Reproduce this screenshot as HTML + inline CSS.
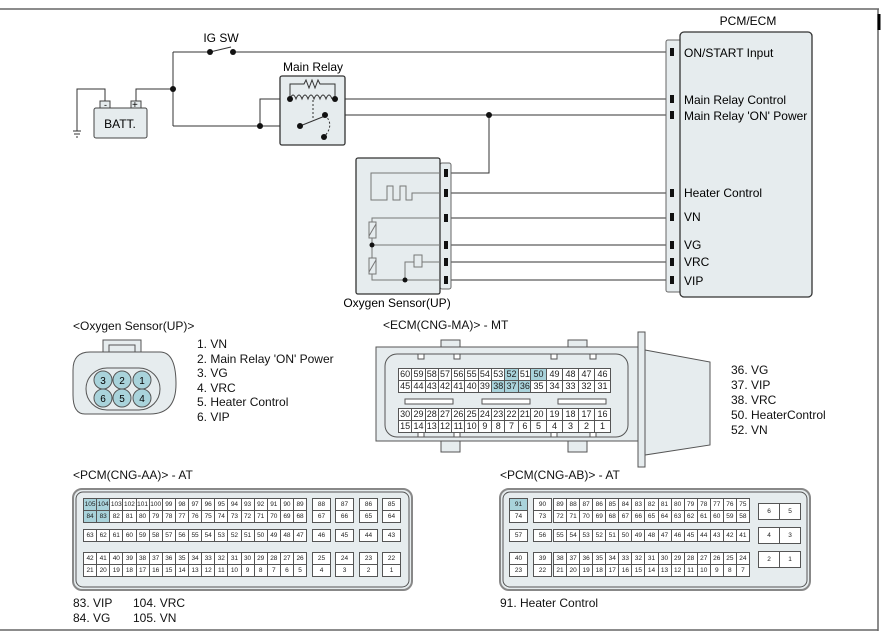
<!DOCTYPE html>
<html><head><meta charset="utf-8"><style>
body{margin:0;width:889px;height:640px;position:relative;background:#fff;font-family:"Liberation Sans",sans-serif;overflow:hidden}
svg{position:absolute;left:0;top:0}
.g{position:absolute;display:flex;height:13px}
.g span{flex:1;border:1px solid #555;margin-left:-1px;text-align:center;background:#fff;box-sizing:border-box;color:#222;white-space:nowrap;overflow:hidden}
.e span{font-size:9px;line-height:11px}
.a span{font-size:6.5px;line-height:11px}
.h{background:#a9d3db!important}
.t{position:absolute;font-size:12px;color:#111;white-space:nowrap}
</style></head><body>
<svg width="889" height="640" viewBox="0 0 889 640" font-family="Liberation Sans, sans-serif">
<g stroke="#666" stroke-width="1.5" fill="none">
<line x1="0" y1="9" x2="879" y2="9"/><line x1="878" y1="9" x2="878" y2="631"/><line x1="0" y1="630" x2="878" y2="630"/>
</g>
<line x1="879" y1="14" x2="879" y2="30" stroke="#000" stroke-width="3"/>
<!-- battery -->
<rect x="94" y="108" width="53" height="30" rx="2" fill="#e6ecee" stroke="#444"/>
<rect x="100" y="101" width="10" height="7" fill="#e6ecee" stroke="#444"/>
<rect x="131" y="101" width="10" height="7" fill="#e6ecee" stroke="#444"/>
<text x="104" y="108" font-size="9">-</text><text x="132" y="108" font-size="10">+</text>
<text x="120" y="128" font-size="12" text-anchor="middle">BATT.</text>
<g fill="none" stroke="#333" stroke-width="1">
<polyline points="105,101 105,89 77,89 77,131"/>
<line x1="73" y1="131" x2="81" y2="131"/><line x1="74" y1="134" x2="80" y2="134"/><line x1="76" y1="137" x2="78" y2="137"/>
<polyline points="136,101 136,89 173,89"/>
<line x1="173" y1="52" x2="173" y2="126"/>
<line x1="173" y1="52" x2="210" y2="52"/>
<line x1="210" y1="52" x2="231" y2="47"/>
<line x1="233" y1="52" x2="667" y2="52"/>
<line x1="173" y1="126" x2="300" y2="126"/>
<polyline points="260,126 260,99 290,99"/>
<line x1="335" y1="99" x2="667" y2="99"/>
<line x1="325" y1="115" x2="667" y2="115"/>
<polyline points="489,115 489,173 447,173"/>
<line x1="447" y1="193" x2="667" y2="193"/>
<line x1="447" y1="218" x2="667" y2="218"/>
<line x1="447" y1="245" x2="667" y2="245"/>
<line x1="447" y1="262" x2="667" y2="262"/>
<line x1="447" y1="280" x2="667" y2="280"/>
</g>
<!-- relay -->
<rect x="280" y="76" width="65" height="69" rx="2" fill="#e6ecee" stroke="#333" stroke-width="1.3"/>
<g fill="none" stroke="#333" stroke-width="1">
<polyline points="290,99 290,84 304,84 306,80 309,88 312,80 315,88 318,80 320,84 335,84 335,99"/>
<path d="M290,99 q3,-8 6,0 q3,-8 6,0 q3,-8 6,0 q3,-8 6,0 q3,-8 6,0 q3,-8 6,0 q3,-8 6,0"/>
<line x1="313" y1="100" x2="313" y2="120" stroke-dasharray="2,2"/>
<line x1="300" y1="126" x2="325" y2="116"/>
<path d="M325,115 q10,10 -1,22" stroke-dasharray="2,2"/>
</g>
<g fill="#111">
<circle cx="210" cy="52" r="3"/><circle cx="233" cy="52" r="3"/><circle cx="173" cy="89" r="3"/>
<circle cx="260" cy="126" r="3"/><circle cx="300" cy="126" r="3"/><circle cx="290" cy="99" r="3"/>
<circle cx="335" cy="99" r="3"/><circle cx="325" cy="115" r="3"/><circle cx="324" cy="137" r="3"/>
<circle cx="489" cy="115" r="3"/>
</g>
<text x="221" y="42" font-size="12" text-anchor="middle">IG SW</text>
<text x="313" y="71" font-size="12" text-anchor="middle">Main Relay</text>
<!-- sensor -->
<rect x="440" y="163" width="11" height="126" rx="2" fill="#e6ecee" stroke="#666"/>
<rect x="356" y="158" width="84" height="136" rx="2" fill="#e6ecee" stroke="#333" stroke-width="1.3"/>
<g fill="none" stroke="#777" stroke-width="1">
<polyline points="440,173 371,173 371,200 387,200 387,186 393,186 393,200 400,200 400,186 406,186 406,200 412,200 412,193 440,193"/>
<polyline points="440,218 372,218 372,280 440,280"/>
<line x1="372" y1="245" x2="440" y2="245"/>
<polyline points="405,280 405,262 414,262"/><line x1="422" y1="262" x2="440" y2="262"/>
</g>
<g fill="#e6ecee" stroke="#777"><rect x="369" y="222" width="7" height="16"/><rect x="369" y="258" width="7" height="16"/><rect x="414" y="255" width="8" height="12"/></g>
<g stroke="#777"><line x1="369" y1="236" x2="376" y2="224"/><line x1="369" y1="272" x2="376" y2="260"/></g>
<g fill="#111"><circle cx="372" cy="245" r="2.5"/><circle cx="405" cy="280" r="2.5"/>
<rect x="444" y="169" width="4" height="8"/><rect x="444" y="189" width="4" height="8"/><rect x="444" y="214" width="4" height="8"/><rect x="444" y="241" width="4" height="8"/><rect x="444" y="258" width="4" height="8"/><rect x="444" y="276" width="4" height="8"/></g>
<text x="397" y="307" font-size="12" text-anchor="middle">Oxygen Sensor(UP)</text>
<!-- PCM -->
<rect x="666" y="40" width="16" height="252" rx="2" fill="#e6ecee" stroke="#666"/>
<rect x="680" y="32" width="132" height="265" rx="4" fill="#e6ecee" stroke="#333" stroke-width="1.3"/>
<g fill="#111"><rect x="670" y="48" width="4" height="8"/><rect x="670" y="95" width="4" height="8"/><rect x="670" y="111" width="4" height="8"/><rect x="670" y="189" width="4" height="8"/><rect x="670" y="213" width="4" height="8"/><rect x="670" y="241" width="4" height="8"/><rect x="670" y="258" width="4" height="8"/><rect x="670" y="276" width="4" height="8"/></g>
<text x="748" y="25" font-size="12" text-anchor="middle">PCM/ECM</text>
<g font-size="12"><text x="684" y="57">ON/START Input</text><text x="684" y="104">Main Relay Control</text><text x="684" y="120">Main Relay 'ON' Power</text><text x="684" y="197">Heater Control</text><text x="684" y="221">VN</text><text x="684" y="249">VG</text><text x="684" y="266">VRC</text><text x="684" y="285">VIP</text></g>
<!-- O2 connector -->
<rect x="103" y="340" width="38" height="20" fill="#e6ecee" stroke="#555"/>
<rect x="109" y="345" width="26" height="15" fill="none" stroke="#555"/>
<path d="M90,352 H160 Q176,352 176,384 Q176,414 150,414 H85 Q73,414 73,395 V370 Q73,352 90,352Z" fill="#e6ecee" stroke="#555"/>
<rect x="86" y="368" width="74" height="42" rx="21" fill="none" stroke="#555"/>
<g fill="#a9d3db" stroke="#555"><circle cx="103" cy="380" r="9"/><circle cx="122" cy="380" r="9"/><circle cx="142" cy="380" r="9"/><circle cx="103" cy="398" r="9"/><circle cx="122" cy="398" r="9"/><circle cx="142" cy="398" r="9"/></g>
<g font-size="10" text-anchor="middle"><text x="103" y="384">3</text><text x="122" y="384">2</text><text x="142" y="384">1</text><text x="103" y="402">6</text><text x="122" y="402">5</text><text x="142" y="402">4</text></g>
<!-- ECM connector -->
<rect x="441" y="340" width="19" height="12" fill="#e6ecee" stroke="#555"/><rect x="568" y="340" width="19" height="12" fill="#e6ecee" stroke="#555"/>
<rect x="441" y="440" width="19" height="12" fill="#e6ecee" stroke="#555"/><rect x="568" y="440" width="19" height="12" fill="#e6ecee" stroke="#555"/>
<polygon points="645,350 710,362 710,445 645,455" fill="#e6ecee" stroke="#555"/>
<rect x="376" y="347" width="262" height="94" fill="#e6ecee" stroke="#555"/>
<rect x="638" y="332" width="7" height="135" fill="#e6ecee" stroke="#555"/>
<rect x="385" y="354" width="243" height="83" rx="12" fill="none" stroke="#555"/>
<g fill="#fff" stroke="#555"><rect x="418" y="354" width="6" height="5"/><rect x="454" y="354" width="6" height="5"/><rect x="551" y="354" width="6" height="5"/><rect x="590" y="354" width="6" height="5"/><rect x="418" y="432" width="6" height="5"/><rect x="454" y="432" width="6" height="5"/><rect x="551" y="432" width="6" height="5"/><rect x="590" y="432" width="6" height="5"/>
<rect x="405" y="399" width="48" height="5"/><rect x="482" y="399" width="48" height="5"/><rect x="558" y="399" width="48" height="5"/></g>
<!-- AA / AB outer -->
<rect x="73" y="489" width="339" height="101" rx="9" fill="#e6ecee" stroke="#888" stroke-width="2"/>
<rect x="76" y="492" width="333" height="95" rx="7" fill="none" stroke="#555"/>
<rect x="500" y="489" width="310" height="101" rx="9" fill="#e6ecee" stroke="#888" stroke-width="2"/>
<rect x="503" y="492" width="304" height="95" rx="7" fill="none" stroke="#555"/>
</svg>

<div class="t" style="left:73px;top:319px">&lt;Oxygen Sensor(UP)&gt;</div>
<div class="t" style="left:197px;top:337px;line-height:14.6px">1. VN<br>2. Main Relay 'ON' Power<br>3. VG<br>4. VRC<br>5. Heater Control<br>6. VIP</div>
<div class="t" style="left:383px;top:318px">&lt;ECM(CNG-MA)&gt; - MT</div>
<div class="t" style="left:731px;top:363px;line-height:15px">36. VG<br>37. VIP<br>38. VRC<br>50. HeaterControl<br>52. VN</div>
<div class="t" style="left:73px;top:468px">&lt;PCM(CNG-AA)&gt; - AT</div>
<div class="t" style="left:500px;top:468px">&lt;PCM(CNG-AB)&gt; - AT</div>
<div class="t" style="left:73px;top:596px;line-height:15px">83. VIP<br>84. VG</div>
<div class="t" style="left:133px;top:596px;line-height:15px">104. VRC<br>105. VN</div>
<div class="t" style="left:500px;top:596px">91. Heater Control</div>

<!-- ECM grid -->
<div class="g e" style="left:399px;top:368px;width:133px"><span>60</span><span>59</span><span>58</span><span>57</span><span>56</span><span>55</span><span>54</span><span>53</span><span class="h">52</span><span>51</span></div>
<div class="g e" style="left:531px;top:368px;width:80px"><span class="h">50</span><span>49</span><span>48</span><span>47</span><span>46</span></div>
<div class="g e" style="left:399px;top:380px;width:133px"><span>45</span><span>44</span><span>43</span><span>42</span><span>41</span><span>40</span><span>39</span><span class="h">38</span><span class="h">37</span><span class="h">36</span></div>
<div class="g e" style="left:531px;top:380px;width:80px"><span>35</span><span>34</span><span>33</span><span>32</span><span>31</span></div>
<div class="g e" style="left:399px;top:408px;width:133px"><span>30</span><span>29</span><span>28</span><span>27</span><span>26</span><span>25</span><span>24</span><span>23</span><span>22</span><span>21</span></div>
<div class="g e" style="left:531px;top:408px;width:80px"><span>20</span><span>19</span><span>18</span><span>17</span><span>16</span></div>
<div class="g e" style="left:399px;top:420px;width:133px"><span>15</span><span>14</span><span>13</span><span>12</span><span>11</span><span>10</span><span>9</span><span>8</span><span>7</span><span>6</span></div>
<div class="g e" style="left:531px;top:420px;width:80px"><span>5</span><span>4</span><span>3</span><span>2</span><span>1</span></div>

<!-- AA grid -->
<div class="g a" style="left:84px;top:498px;width:223px"><span class="h">105</span><span class="h">104</span><span>103</span><span>102</span><span>101</span><span>100</span><span>99</span><span>98</span><span>97</span><span>96</span><span>95</span><span>94</span><span>93</span><span>92</span><span>91</span><span>90</span><span>89</span></div>
<div class="g a" style="left:84px;top:510px;width:223px"><span class="h">84</span><span class="h">83</span><span>82</span><span>81</span><span>80</span><span>79</span><span>78</span><span>77</span><span>76</span><span>75</span><span>74</span><span>73</span><span>72</span><span>71</span><span>70</span><span>69</span><span>68</span></div>
<div class="g a" style="left:84px;top:529px;width:223px"><span>63</span><span>62</span><span>61</span><span>60</span><span>59</span><span>58</span><span>57</span><span>56</span><span>55</span><span>54</span><span>53</span><span>52</span><span>51</span><span>50</span><span>49</span><span>48</span><span>47</span></div>
<div class="g a" style="left:84px;top:552px;width:223px"><span>42</span><span>41</span><span>40</span><span>39</span><span>38</span><span>37</span><span>36</span><span>35</span><span>34</span><span>33</span><span>32</span><span>31</span><span>30</span><span>29</span><span>28</span><span>27</span><span>26</span></div>
<div class="g a" style="left:84px;top:564px;width:223px"><span>21</span><span>20</span><span>19</span><span>18</span><span>17</span><span>16</span><span>15</span><span>14</span><span>13</span><span>12</span><span>11</span><span>10</span><span>9</span><span>8</span><span>7</span><span>6</span><span>5</span></div>
<div class="g a" style="left:313px;top:498px;width:18px"><span>88</span></div><div class="g a" style="left:313px;top:510px;width:18px"><span>67</span></div>
<div class="g a" style="left:336px;top:498px;width:18px"><span>87</span></div><div class="g a" style="left:336px;top:510px;width:18px"><span>66</span></div>
<div class="g a" style="left:360px;top:498px;width:18px"><span>86</span></div><div class="g a" style="left:360px;top:510px;width:18px"><span>65</span></div>
<div class="g a" style="left:383px;top:498px;width:18px"><span>85</span></div><div class="g a" style="left:383px;top:510px;width:18px"><span>64</span></div>
<div class="g a" style="left:313px;top:529px;width:18px"><span>46</span></div><div class="g a" style="left:336px;top:529px;width:18px"><span>45</span></div><div class="g a" style="left:360px;top:529px;width:18px"><span>44</span></div><div class="g a" style="left:383px;top:529px;width:18px"><span>43</span></div>
<div class="g a" style="left:313px;top:552px;width:18px"><span>25</span></div><div class="g a" style="left:313px;top:564px;width:18px"><span>4</span></div>
<div class="g a" style="left:336px;top:552px;width:18px"><span>24</span></div><div class="g a" style="left:336px;top:564px;width:18px"><span>3</span></div>
<div class="g a" style="left:360px;top:552px;width:18px"><span>23</span></div><div class="g a" style="left:360px;top:564px;width:18px"><span>2</span></div>
<div class="g a" style="left:383px;top:552px;width:18px"><span>22</span></div><div class="g a" style="left:383px;top:564px;width:18px"><span>1</span></div>

<!-- AB grid -->
<div class="g a" style="left:510px;top:498px;width:18px"><span class="h">91</span></div><div class="g a" style="left:510px;top:510px;width:18px"><span>74</span></div>
<div class="g a" style="left:534px;top:498px;width:18px"><span>90</span></div><div class="g a" style="left:534px;top:510px;width:18px"><span>73</span></div>
<div class="g a" style="left:554px;top:498px;width:196px"><span>89</span><span>88</span><span>87</span><span>86</span><span>85</span><span>84</span><span>83</span><span>82</span><span>81</span><span>80</span><span>79</span><span>78</span><span>77</span><span>76</span><span>75</span></div>
<div class="g a" style="left:554px;top:510px;width:196px"><span>72</span><span>71</span><span>70</span><span>69</span><span>68</span><span>67</span><span>66</span><span>65</span><span>64</span><span>63</span><span>62</span><span>61</span><span>60</span><span>59</span><span>58</span></div>
<div class="g a" style="left:510px;top:529px;width:18px"><span>57</span></div><div class="g a" style="left:534px;top:529px;width:18px"><span>56</span></div>
<div class="g a" style="left:554px;top:529px;width:196px"><span>55</span><span>54</span><span>53</span><span>52</span><span>51</span><span>50</span><span>49</span><span>48</span><span>47</span><span>46</span><span>45</span><span>44</span><span>43</span><span>42</span><span>41</span></div>
<div class="g a" style="left:510px;top:552px;width:18px"><span>40</span></div><div class="g a" style="left:510px;top:564px;width:18px"><span>23</span></div>
<div class="g a" style="left:534px;top:552px;width:18px"><span>39</span></div><div class="g a" style="left:534px;top:564px;width:18px"><span>22</span></div>
<div class="g a" style="left:554px;top:552px;width:196px"><span>38</span><span>37</span><span>36</span><span>35</span><span>34</span><span>33</span><span>32</span><span>31</span><span>30</span><span>29</span><span>28</span><span>27</span><span>26</span><span>25</span><span>24</span></div>
<div class="g a" style="left:554px;top:564px;width:196px"><span>21</span><span>20</span><span>19</span><span>18</span><span>17</span><span>16</span><span>15</span><span>14</span><span>13</span><span>12</span><span>11</span><span>10</span><span>9</span><span>8</span><span>7</span></div>
<div class="g a" style="left:759px;top:503px;width:42px;height:17px"><span style="line-height:15px">6</span><span style="line-height:15px">5</span></div>
<div class="g a" style="left:759px;top:527px;width:42px;height:17px"><span style="line-height:15px">4</span><span style="line-height:15px">3</span></div>
<div class="g a" style="left:759px;top:551px;width:42px;height:17px"><span style="line-height:15px">2</span><span style="line-height:15px">1</span></div>
</body></html>
